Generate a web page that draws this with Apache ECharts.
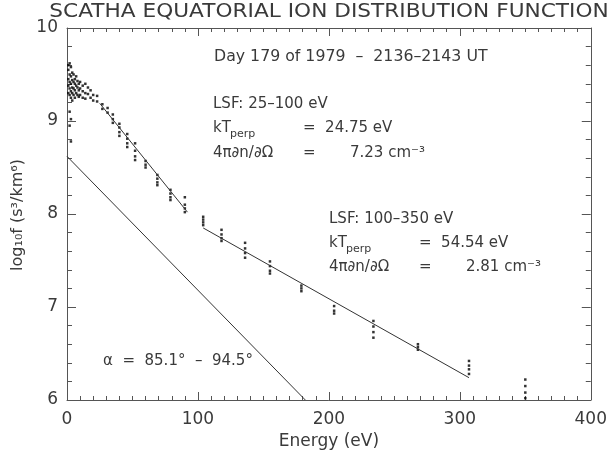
<!DOCTYPE html>
<html><head><meta charset="utf-8">
<script src="https://cdn.jsdelivr.net/npm/echarts@6/dist/echarts.min.js"></script>
<style>html,body{margin:0;padding:0;background:#fff}#c{width:610px;height:455px}</style>
</head><body><div id="c"></div>
<script>
// Energy channels (eV) and measured log10 f values at each channel
const channelEnergy = [1,2,3,4,5,6,7,8,9,10,12,14,16,18,20,23,27,31,35,40,46,52,60,69,79,90,104,118,136,155,179,204,234,268,307,350];
const channelLogF = [
  [9.60,9.55,9.45,9.38,9.30],
  [9.62,9.50,9.42,9.35,9.28,9.10,8.95],
  [9.58,9.48,9.40,9.32,9.25,9.02,8.78],
  [9.52,9.44,9.36,9.30,9.22],
  [9.50,9.42,9.35,9.28],
  [9.45,9.40,9.33,9.25],
  [9.48,9.38,9.30],
  [9.43,9.36,9.28],
  [9.40,9.33,9.26],
  [9.42,9.35,9.28],
  [9.38,9.32,9.25],
  [9.40,9.30,9.24],
  [9.36,9.29],
  [9.33,9.25],
  [9.28,9.22],
  [9.27,9.21],
  [9.18,9.13],
  [9.14,9.09],
  [9.07,9.02,8.98],
  [8.97,8.93,8.88,8.84],
  [8.86,8.81,8.76,8.72],
  [8.76,8.68,8.62,8.58],
  [8.57,8.53,8.50],
  [8.42,8.38,8.34,8.31],
  [8.26,8.22,8.18,8.15],
  [8.18,8.10,8.06,8.02],
  [7.97,7.94,7.91,7.88],
  [7.83,7.78,7.74,7.71],
  [7.69,7.63,7.58,7.53],
  [7.49,7.44,7.39,7.36],
  [7.23,7.20,7.17],
  [7.01,6.96,6.93],
  [6.85,6.79,6.73,6.67],
  [6.60,6.57,6.54],
  [6.42,6.37,6.33,6.28],
  [6.22,6.15,6.08,6.02]
];
// Least-squares fit lines
const fitLowE = [25, 92];
const fitLowF = [9.19, 8.02];
const fitHighE = [104, 307];
const fitHighF = [7.85, 6.24];
const refLineE = [0, 182];
const refLineF = [8.62, 6.0];
// Axis ticks
const xTicks = {min: 0, max: 400, step: 100};
const yTicks = {min: 6, max: 10, step: 1};

const FONT = 'DejaVu Sans';
const TXT = '#3a3a3a';
const AX = '#555';

const points = [];
channelEnergy.forEach((e, i) => channelLogF[i].forEach(v => points.push([e, v])));
const pairs = (xs, ys) => xs.map((x, i) => [x, ys[i]]);

const chart = echarts.init(document.getElementById('c'), null, {renderer: 'canvas'});

function xAx(pos, labels) {
  return {
    type: 'value', position: pos, min: xTicks.min, max: xTicks.max, interval: xTicks.step,
    axisLine: {show: true, onZero: false, lineStyle: {color: AX, width: 1}},
    axisTick: {show: true, inside: true, length: 8, lineStyle: {color: AX}},
    minorTick: {show: true, splitNumber: 10, length: 4, lineStyle: {color: AX}},
    splitLine: {show: false},
    axisLabel: {show: labels, color: TXT, fontSize: 17, fontFamily: FONT, margin: 11},
    name: labels ? 'Energy (eV)' : '', nameLocation: 'middle', nameGap: 33,
    nameTextStyle: {color: TXT, fontSize: 17, fontFamily: FONT}
  };
}
function yAx(pos, labels) {
  return {
    type: 'value', position: pos, min: yTicks.min, max: yTicks.max, interval: yTicks.step,
    axisLine: {show: true, onZero: false, lineStyle: {color: AX, width: 1}},
    axisTick: {show: true, inside: true, length: 9, lineStyle: {color: AX}},
    minorTick: {show: true, splitNumber: 5, length: 5, lineStyle: {color: AX}},
    splitLine: {show: false},
    axisLabel: {show: labels, color: TXT, fontSize: 17, fontFamily: FONT, margin: 9}
  };
}

function t(x, y, text, size, extra) {
  return Object.assign({type: 'text', x: x, y: y, style: {text: text, fill: TXT, font: size + 'px "' + FONT + '"', verticalAlign: 'middle'}}, extra || {});
}

const FS = 15;
const graphics = [
  {type: 'text', x: 329, y: 12, scaleX: 1.14, style: {text: 'SCATHA EQUATORIAL ION DISTRIBUTION FUNCTION', fill: TXT, font: '19px "' + FONT + '"', align: 'center', verticalAlign: 'middle'}},
  {type: 'text', x: 18, y: 215, rotation: Math.PI / 2, style: {text: 'log\u2081\u2080f (s\u00b3/km\u2076)', fill: TXT, font: '16px "' + FONT + '"', align: 'center', verticalAlign: 'middle'}},
  t(214, 57, 'Day 179 of 1979  \u2013  2136\u20132143 UT', FS, {scaleX: 1.05}),
  // block 1
  t(213, 104, 'LSF: 25\u2013100 eV', FS),
  t(213, 128, 'kT', FS), t(230, 134, 'perp', 11), t(303, 128, '=  24.75 eV', FS),
  t(213, 153, '4\u03c0\u2202n/\u2202\u03a9', FS), t(303, 153, '=', FS), t(350, 153, '7.23 cm\u207b\u00b3', FS),
  // block 2
  t(329, 219, 'LSF: 100\u2013350 eV', FS),
  t(329, 243, 'kT', FS), t(346, 249, 'perp', 11), t(419, 243, '=  54.54 eV', FS),
  t(329, 267, '4\u03c0\u2202n/\u2202\u03a9', FS), t(419, 267, '=', FS), t(466, 267, '2.81 cm\u207b\u00b3', FS),
  // pitch angle
  t(103, 361, '\u03b1  =  85.1\u00b0  \u2013  94.5\u00b0', FS)
];

chart.setOption({
  animation: false,
  backgroundColor: '#fff',
  grid: {left: 67, top: 28, width: 528, height: 373, containLabel: false},
  xAxis: [xAx('bottom', true), xAx('top', false)],
  yAxis: [yAx('left', true), yAx('right', false)],
  graphic: graphics,
  series: [
    {type: 'scatter', data: points, symbol: 'rect', symbolSize: [2.5, 2.5], itemStyle: {color: '#000'}, silent: true},
    {type: 'line', data: pairs(fitLowE, fitLowF), showSymbol: false, symbol: 'none', lineStyle: {color: '#333', width: 1}, silent: true},
    {type: 'line', data: pairs(fitHighE, fitHighF), showSymbol: false, symbol: 'none', lineStyle: {color: '#333', width: 1}, silent: true},
    {type: 'line', data: pairs(refLineE, refLineF), showSymbol: false, symbol: 'none', lineStyle: {color: '#333', width: 1}, silent: true}
  ]
});
</script>
</body></html>
